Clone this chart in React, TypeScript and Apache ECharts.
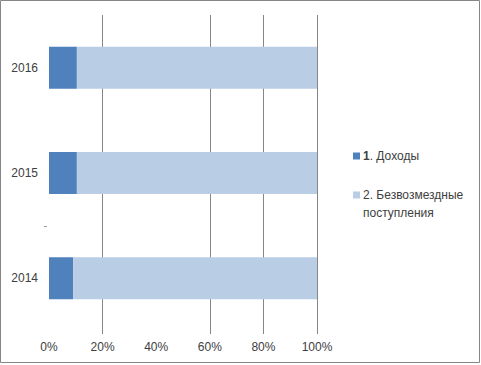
import React, { useEffect, useRef } from "react";
import * as echarts from "echarts";

const years = ["2014", "2015", "2016"];
const seriesNames = ["1. Доходы", "2. Безвозмездные поступления"];
const income = [9.0, 10.4, 10.4];
const grants = [91.0, 89.6, 89.6];
const xTicks = [20, 60, 80, 100];

export default function App() {
  const ref = useRef<HTMLDivElement>(null);
  useEffect(() => {
    document.body.style.margin = "0";
    const chart = echarts.init(ref.current!, null, { renderer: "svg" });
    const font = "'Liberation Sans', Arial, sans-serif";
    chart.setOption({
      animation: false,
      backgroundColor: "#ffffff",
      grid: { left: 49, right: 164, top: 15, bottom: 34, containLabel: false },
      xAxis: {
        type: "value",
        min: 0,
        max: 100,
        interval: 20,
        axisLine: { show: false },
        axisTick: { show: true, length: 3, customValues: xTicks, lineStyle: { color: "#868686" } },
        splitLine: { show: true, lineStyle: { color: "#868686", width: 1 } },
        axisLabel: {
          formatter: "{value}%",
          color: "#404040",
          fontFamily: font,
          fontSize: 12,
          margin: 10,
        },
      },
      yAxis: {
        type: "category",
        data: years,
        axisLine: { show: false },
        axisTick: { show: false },
        axisLabel: { color: "#404040", fontFamily: font, fontSize: 12, margin: 11 },
      },
      legend: {
        orient: "vertical",
        left: 353,
        top: 147,
        padding: 0,
        itemWidth: 7,
        itemHeight: 7,
        itemGap: 3,
        icon: "rect",
        data: seriesNames,
        textStyle: {
          color: "#404040",
          fontFamily: font,
          fontSize: 12,
          lineHeight: 18,
          padding: [0, 0, 0, -2],
          rich: { b: { fontWeight: "bold", fontFamily: font, fontSize: 12, color: "#404040", lineHeight: 18 } },
        },
        formatter: (name: string) => {
          if (name === seriesNames[0]) return "{b|1}. Доходы";
          return "\n2. Безвозмездные\nпоступления";
        },
      },
      series: [
        {
          name: seriesNames[0],
          type: "bar",
          stack: "total",
          barWidth: 42,
          data: income,
          itemStyle: { color: "#4F81BD" },
        },
        {
          name: seriesNames[1],
          type: "bar",
          stack: "total",
          barWidth: 42,
          data: grants,
          itemStyle: { color: "#B9CDE5" },
        },
      ],
      graphic: [
        {
          type: "rect",
          shape: { x: 0.5, y: 0.5, width: 479, height: 362 },
          style: { fill: "none", stroke: "#868686", lineWidth: 1 },
          silent: true,
        },
        {
          type: "rect",
          shape: { x: 44, y: 226, width: 3, height: 1 },
          style: { fill: "#9a9a9a" },
          silent: true,
        },
      ],
    });
    return () => chart.dispose();
  }, []);
  return <div ref={ref} style={{ width: 481, height: 365 }} />;
}
